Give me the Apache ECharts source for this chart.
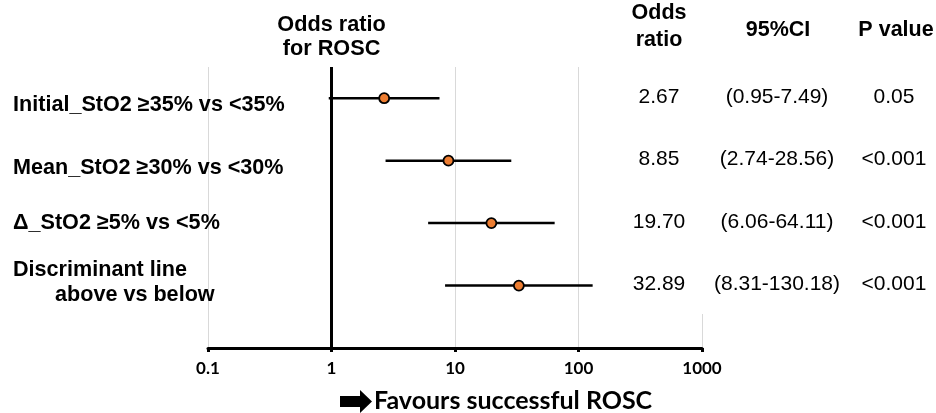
<!DOCTYPE html>
<html><head><meta charset="utf-8">
<script src="https://cdn.jsdelivr.net/npm/echarts@6/dist/echarts.min.js"></script>
<style>html,body{margin:0;padding:0;background:#fff}#c{width:936px;height:413px}</style>
</head><body><div id="c"></div>
<script>
// ---- data ----
const rowLabels = [['Initial_StO2 \u226535% vs <35%'], ['Mean_StO2 \u226530% vs <30%'], ['\u0394_StO2 \u22655% vs <5%'], ['Discriminant line', 'above vs below']];
const oddsRatio = [2.67, 8.85, 19.70, 32.89];
const ciLow = [0.95, 2.74, 6.06, 8.31];
const ciHigh = [7.49, 28.56, 64.11, 130.18];
const pValues = ['0.05', '<0.001', '<0.001', '<0.001'];
const rowPos = [4, 3, 2, 1];
const xTicks = [0.1, 1, 10, 100, 1000];
const plotTitle = ['Odds ratio', 'for ROSC'];
const colHeaders = [['Odds', 'ratio'], ['95%CI'], ['P value']];
const caption = 'Favours successful ROSC';

const AR = '"Liberation Sans", Arial, sans-serif';
const CAL = 'Lato, "Open Sans", sans-serif';

const chart = echarts.init(document.getElementById('c'), null, {renderer: 'canvas'});
const option = {
  animation: false,
  backgroundColor: '#fff',
  grid: {left: 208, right: 234, top: 67, bottom: 65},
  xAxis: {
    type: 'log', logBase: 10, min: xTicks[0], max: xTicks[xTicks.length - 1],
    axisLine: {show: true, lineStyle: {color: '#000', width: 3}},
    axisTick: {show: true, length: 4, lineStyle: {color: '#000', width: 3}},
    minorTick: {show: false},
    axisLabel: {color: '#000', fontFamily: CAL, fontWeight: 'bold', fontSize: 17, margin: 12,
      formatter: v => String(+(+v).toPrecision(6))},
    splitLine: {show: true, lineStyle: {color: '#d9d9d9', width: 1}}
  },
  yAxis: {type: 'value', min: 0, max: 4.5, show: false, splitLine: {show: false}},
  series: [
    {
      type: 'custom',
      data: ciLow.map((lo, i) => [lo, ciHigh[i], rowPos[i]]),
      encode: {x: [0, 1], y: 2},
      renderItem: (params, api) => {
        const y = api.value(2);
        const p1 = api.coord([api.value(0), y]);
        const p2 = api.coord([api.value(1), y]);
        return {type: 'line', shape: {x1: p1[0], y1: p1[1], x2: p2[0], y2: p2[1]},
          style: {stroke: '#000', lineWidth: 2.5}};
      },
      z: 3
    },
    {
      type: 'scatter',
      data: oddsRatio.map((v, i) => [v, rowPos[i]]),
      symbol: 'circle', symbolSize: 10,
      itemStyle: {color: '#ED7D31', borderColor: '#000', borderWidth: 1.8, opacity: 1},
      z: 5,
      markLine: {
        silent: true, symbol: ['none', 'none'], label: {show: false},
        lineStyle: {color: '#000', width: 3, type: 'solid'},
        data: [{xAxis: 1}]
      }
    }
  ]
};
chart.setOption(option);

// ---- text / table layout ----
const g = [];
const txt = (x, y, s, size, bold, align, fam) => g.push({
  type: 'text', x: x, y: y, z: 50,
  style: {text: s, fill: '#000', font: (bold ? 'bold ' : '') + size + 'px ' + (fam || AR),
    textAlign: align || 'center', textVerticalAlign: 'middle'}
});
const px = (x, y) => chart.convertToPixel({gridIndex: 0}, [x, y]);
const xOne = px(1, 0)[0];
const topY = px(1, 4.5)[1];
txt(xOne, 25, plotTitle[0], 21.7, true);
txt(xOne, 49, plotTitle[1], 21.7, true);
txt(659, 13, colHeaders[0][0], 21.5, true);
txt(659, 40, colHeaders[0][1], 21.5, true);
txt(778, 30, colHeaders[1][0], 21.5, true);
txt(896, 30, colHeaders[2][0], 21.5, true);
const labelOffsets = [[7], [7], [0], [-16, 9]];
const labelX = [[13], [13], [13], [13, 55]];
rowPos.forEach((r, i) => {
  const y = px(1, r)[1];
  rowLabels[i].forEach((s, k) => txt(labelX[i][k], y + labelOffsets[i][k], s, 21.6, true, 'left'));
  txt(659, y - 1, oddsRatio[i].toFixed(2), 21, false);
  txt(777, y - 1, '(' + ciLow[i].toFixed(2) + '-' + ciHigh[i].toFixed(2) + ')', 21, false);
  txt(894, y - 1, pValues[i], 21, false);
});
// white box hiding upper part of the 1000 gridline
const xMax = px(1000, 0)[0];
g.push({type: 'rect', z: 40, shape: {x: xMax - 2, y: topY - 2, width: 4, height: 249}, style: {fill: '#fff'}});
// caption with arrow
g.push({type: 'polygon', z: 50, shape: {points: [[340, 396], [360, 396], [360, 390], [372, 401.5], [360, 413], [360, 407], [340, 407]]}, style: {fill: '#000'}});
txt(374, 401, caption, 25, true, 'left', CAL);
chart.setOption({graphic: {elements: g}});
</script></body></html>
